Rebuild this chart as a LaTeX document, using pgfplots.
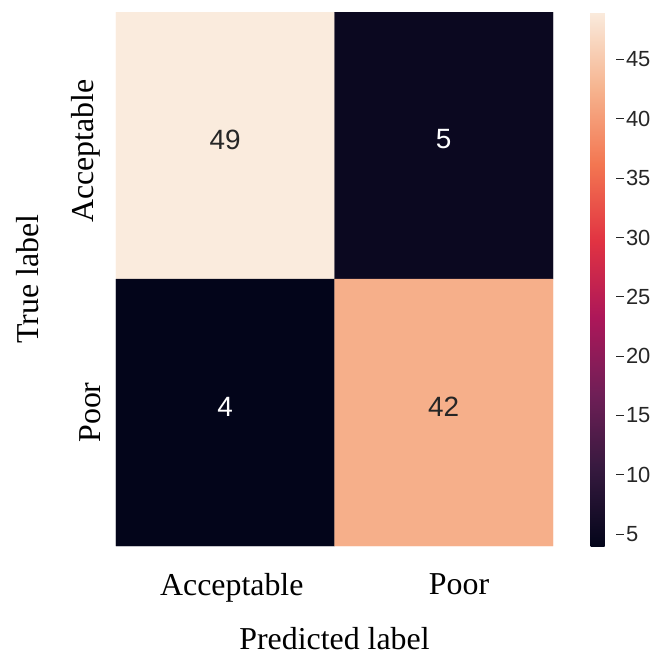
\documentclass[border=0pt]{standalone}
\usepackage{fontspec}
\setmainfont{Liberation Serif}
\newfontfamily\arialf{Liberation Sans}
\usepackage{pgfplots}
\pgfplotsset{compat=1.18}
\begin{document}
\begin{tikzpicture}
\begin{axis}[
  at={(0,0)}, anchor=south west,
  scale only axis, width=437bp, height=534bp,
  xmin=-0.5, xmax=1.5, ymin=-0.5, ymax=1.5,
  y dir=reverse,
  axis line style={draw=none},
  major tick length=0pt,
  xtick={0.03,1.07}, xticklabels={Acceptable,Poor},
  ytick={0.02,1.0}, yticklabels={Acceptable,Poor},
  yticklabel style={rotate=90, anchor=south, font=\fontsize{32}{32}\selectfont},
  xticklabel style={font=\fontsize{32}{32}\selectfont},
  xticklabel shift=24bp, yticklabel shift=12bp,
  xlabel={Predicted label}, ylabel={True label},
  xlabel shift=18bp, ylabel shift=26bp,
  label style={font=\fontsize{32}{32}\selectfont},
  colormap={rocket}{rgb255(0)=(3,5,26); rgb255(1)=(53,25,62); rgb255(2)=(112,31,87); rgb255(3)=(173,23,89); rgb255(4)=(225,51,66); rgb255(5)=(243,118,81); rgb255(6)=(246,180,143); rgb255(7)=(250,235,221)},
  point meta min=4, point meta max=49,
  colorbar,
  colorbar style={
    at={(parent axis.north east)}, anchor=north west, xshift=29bp,
    scale only axis, width=25bp, height=534bp,
    ytick={5,10,...,45},
    axis line style={draw=none},
    ytick pos=right, tick align=outside,
    major tick length=8bp,
    tick style={black!85, line width=1bp},
    /pgf/number format/assume math mode=true,
    yticklabel style={font=\arialf\fontsize{22}{22}\selectfont, text=black!85, xshift=-1bp},
  },
]
\addplot[matrix plot*, mesh/cols=2, point meta=explicit] table[meta=C] {
x y C
0 0 49
1 0 5
0 1 4
1 1 42
};
\node[font=\arialf\fontsize{28}{28}\selectfont, text=black!85, yshift=6bp] at (axis cs:0,0) {49};
\node[font=\arialf\fontsize{28}{28}\selectfont, text=white, yshift=6bp] at (axis cs:1,0) {5};
\node[font=\arialf\fontsize{28}{28}\selectfont, text=white, yshift=6bp] at (axis cs:0,1) {4};
\node[font=\arialf\fontsize{28}{28}\selectfont, text=black!85, yshift=6bp] at (axis cs:1,1) {42};
\end{axis}
\pgfresetboundingbox
\useasboundingbox (-116bp,-113bp) rectangle (536bp,546bp);
\end{tikzpicture}
\end{document}
